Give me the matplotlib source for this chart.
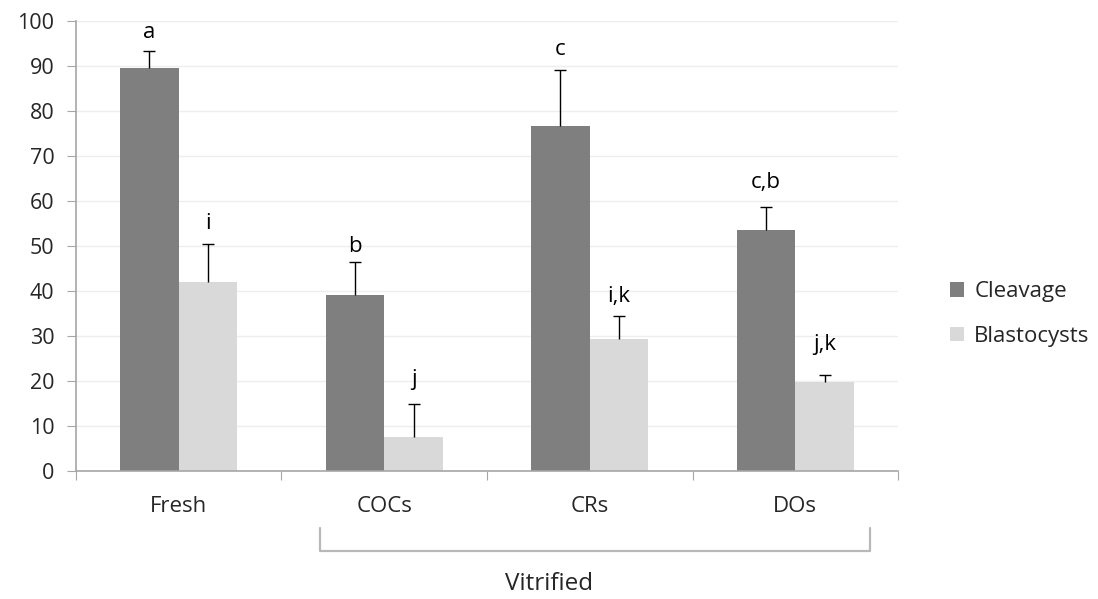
import numpy as np
import matplotlib
matplotlib.use("Agg")
import matplotlib.pyplot as plt

plt.rcParams["font.family"] = ["Open Sans", "DejaVu Sans"]

groups = ["Fresh", "COCs", "CRs", "DOs"]
cleavage = [89.5, 39.1, 76.7, 53.6]
cleavage_err = [3.9, 7.3, 12.5, 5.0]
blasto = [42.0, 7.6, 29.4, 19.7]
blasto_err = [8.4, 7.3, 5.1, 1.6]
cleavage_letters = ["a", "b", "c", "c,b"]
blasto_letters = ["i", "j", "i,k", "j,k"]

C_DARK = "#7f7f7f"
C_LIGHT = "#d9d9d9"
TXT = "#262626"

# letter offsets above the error bar tops (pixels)
cl_off = [12.7, 10.6, 15, 19]
bl_off = [15, 19, 14, 25]

fig = plt.figure(figsize=(10.98, 5.99), dpi=100)
ax = fig.add_axes([0.0692, 0.2137, 0.7487, 0.7513])

x = np.arange(len(groups))
w = 0.285

ax.bar(x - w / 2, cleavage, w, color=C_DARK, label="Cleavage", zorder=2)
ax.bar(x + w / 2, blasto, w, color=C_LIGHT, label="Blastocysts", zorder=2)

# upper error bars only (no cap at the bar top)
for xs, vals, errs in [(x - w / 2, cleavage, cleavage_err), (x + w / 2, blasto, blasto_err)]:
    tops = np.array(vals) + np.array(errs)
    ax.vlines(xs, vals, tops, color="black", linewidth=1, zorder=3)
    ax.plot(xs, tops, linestyle="none", marker="_", markersize=8,
            markeredgewidth=1, color="black", zorder=3)

for i in range(len(groups)):
    ax.annotate(cleavage_letters[i], (x[i] - w / 2, cleavage[i] + cleavage_err[i]),
                xytext=(0, cl_off[i] * 0.72), textcoords="offset points",
                ha="center", va="baseline", fontsize=16, color="black")
    ax.annotate(blasto_letters[i], (x[i] + w / 2, blasto[i] + blasto_err[i]),
                xytext=(0, bl_off[i] * 0.72), textcoords="offset points",
                ha="center", va="baseline", fontsize=16, color="black")

ax.set_xlim(-0.5, 3.5)
ax.set_ylim(0, 100)
ax.set_yticks(np.arange(0, 101, 10))
ax.yaxis.grid(True, color="#eeeeee", linewidth=1, zorder=0)
ax.set_axisbelow(True)

# category boundaries as major ticks, labels on minor ticks
ax.set_xticks(np.arange(-0.5, 4, 1))
ax.set_xticklabels([])
ax.set_xticks(x, minor=True)
ax.set_xticklabels(groups, minor=True)
ax.tick_params(axis="x", which="major", length=6.5, color="#a6a6a6", direction="out")
ax.tick_params(axis="x", which="minor", length=0, pad=18, labelsize=16, labelcolor=TXT)
ax.tick_params(axis="y", length=6.5, color="#a6a6a6", labelsize=15.5, labelcolor=TXT, pad=9)

for s in ["top", "right"]:
    ax.spines[s].set_visible(False)
ax.spines["left"].set_color("#a6a6a6")
ax.spines["bottom"].set_color("#a6a6a6")
ax.spines["left"].set_linewidth(1.2)
ax.spines["bottom"].set_linewidth(1.2)

# bracket for vitrified groups
bx = [0.687, 0.687, 3.364, 3.364]
by = [-12.7, -17.8, -17.8, -12.7]
ax.plot(bx, by, color="#b8b8b8", linewidth=1.6, clip_on=False,
        solid_joinstyle="round", solid_capstyle="round")
ax.text(1.80, -25.0, "Vitrified", ha="center", va="center", fontsize=17.5,
        color=TXT, clip_on=False)

leg = fig.legend(loc="upper left", bbox_to_anchor=(0.857, 0.545), frameon=False,
                 fontsize=16, handlelength=0.65, handleheight=0.65,
                 handletextpad=0.45, labelspacing=1.05, borderaxespad=0)
for t in leg.get_texts():
    t.set_color(TXT)

fig.savefig("out.png", dpi=100)
